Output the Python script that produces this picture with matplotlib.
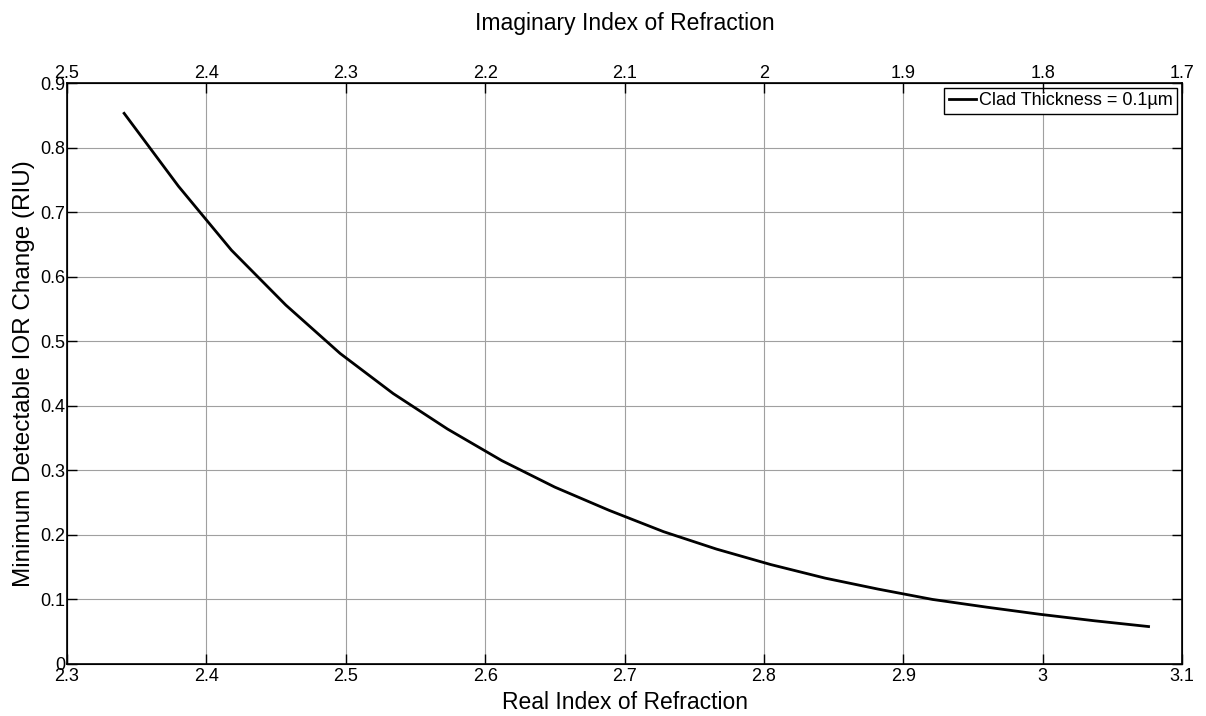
import matplotlib
matplotlib.use("Agg")
import matplotlib.pyplot as plt
from matplotlib.ticker import FuncFormatter

plt.rcParams['font.family'] = ['Liberation Sans', 'DejaVu Sans']

real_index = [2.341, 2.380, 2.418, 2.457, 2.496, 2.534, 2.573, 2.612, 2.650, 2.689,
              2.728, 2.766, 2.805, 2.844, 2.882, 2.921, 2.960, 2.998, 3.037, 3.076]
min_ior_change = [0.853, 0.740, 0.641, 0.556, 0.481, 0.419, 0.364, 0.315, 0.274, 0.238,
                  0.205, 0.178, 0.154, 0.133, 0.116, 0.100, 0.088, 0.077, 0.067, 0.058]
bottom_ticks = [2.3, 2.4, 2.5, 2.6, 2.7, 2.8, 2.9, 3.0, 3.1]
top_ticks = [2.5, 2.4, 2.3, 2.2, 2.1, 2.0, 1.9, 1.8, 1.7]
y_ticks = [0, 0.1, 0.2, 0.3, 0.4, 0.5, 0.6, 0.7, 0.8, 0.9]
legend_label = 'Clad Thickness = 0.1\u00b5m'

def fmt(v, pos=None):
    return ('%g' % round(v, 4))

TICK_FS = 13
fig = plt.figure(figsize=(12.06, 7.16), dpi=100)
ax = fig.add_axes([67/1206, 1-664/716, (1182-67)/1206, (664-83)/716])

ax.plot(real_index, min_ior_change, color='black', lw=2.0, label=legend_label)
ax.set_xlim(2.3, 3.1)
ax.set_ylim(0, 0.9)
ax.set_xticks(bottom_ticks)
ax.set_yticks(y_ticks)
ax.xaxis.set_major_formatter(FuncFormatter(fmt))
ax.yaxis.set_major_formatter(FuncFormatter(fmt))
ax.grid(True, color='#a0a0a0', lw=0.8)
ax.tick_params(axis='y', direction='in', length=7, width=1, labelsize=TICK_FS, pad=1,
               right=True, left=True)
ax.tick_params(axis='x', direction='in', length=7, width=1, labelsize=TICK_FS, pad=3,
               bottom=True, top=False)
for s in ax.spines.values():
    s.set_linewidth(1.2)
ax.set_xlabel('Real Index of Refraction', fontsize=16.5, labelpad=4)
ax.set_ylabel('Minimum Detectable IOR Change (RIU)', fontsize=17.5, labelpad=4)

ax2 = ax.twiny()
ax2.set_xlim(2.5, 1.7)
ax2.set_xticks(top_ticks)
ax2.xaxis.set_major_formatter(FuncFormatter(fmt))
ax2.tick_params(direction='in', length=7, width=1, labelsize=TICK_FS, pad=1)
ax2.set_xlabel('Imaginary Index of Refraction', fontsize=16.5, labelpad=25)

leg = ax.legend(loc='upper right', fontsize=TICK_FS, frameon=True, fancybox=False,
                edgecolor='black', framealpha=1, handlelength=1.5, borderpad=0.25,
                handletextpad=0.2, borderaxespad=0.25)
leg.get_frame().set_linewidth(1.0)

fig.savefig('out.png', dpi=100)
